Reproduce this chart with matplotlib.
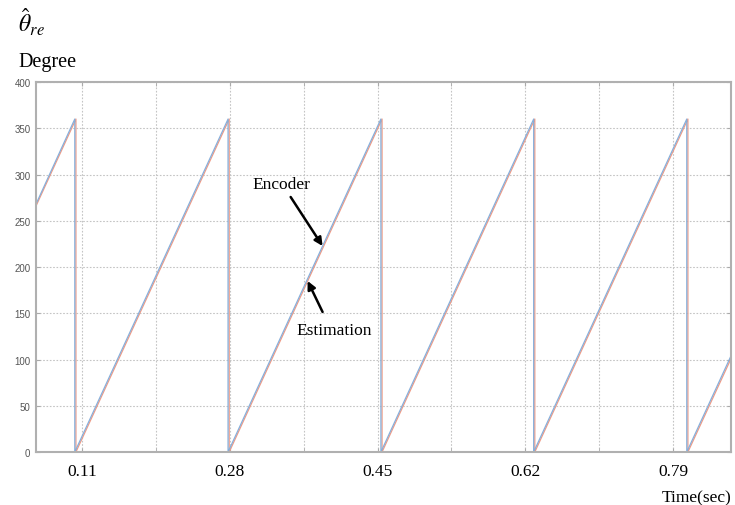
import matplotlib.pyplot as plt
from matplotlib.ticker import FixedLocator

plt.rcParams['mathtext.fontset'] = 'stix'

# encoder angle (red) and estimated angle (blue), sawtooth vertices
enc_t = [0.0572, 0.1031, 0.1031, 0.2794, 0.2794, 0.4552, 0.4552,
         0.6309, 0.6309, 0.8070, 0.8070, 0.8566]
enc_deg = [266, 360, 0, 360, 0, 360, 0, 360, 0, 360, 0, 101]

est_t = [0.0572, 0.1018, 0.1018, 0.2781, 0.2781, 0.4539, 0.4539,
         0.6296, 0.6296, 0.8057, 0.8057, 0.8566]
est_deg = [268, 360, 0, 360, 0, 360, 0, 360, 0, 360, 0, 104]

label_ticks = [0.11, 0.28, 0.45, 0.62, 0.79]
label_text = ['0.11', '0.28', '0.45', '0.62', '0.79']
mid_ticks = [0.195, 0.365, 0.535, 0.705]
y_ticks = [0, 50, 100, 150, 200, 250, 300, 350, 400]

fig = plt.figure(figsize=(7.35, 5.06), dpi=100)
ax = fig.add_axes([0.049, 0.1047, 0.9456, 0.7312])

ax.plot(enc_t, enc_deg, color='#ef9a85', lw=0.9)
ax.plot(est_t, est_deg, color='#86afdb', lw=0.9)

ax.set_xlim(0.0572, 0.8566)
ax.set_ylim(0, 400)

ax.set_xticks(label_ticks)
ax.set_xticklabels(label_text, family='Liberation Serif', fontsize=12.5)
ax.xaxis.set_minor_locator(FixedLocator(mid_ticks))
ax.set_yticks(y_ticks)
ax.set_yticklabels([str(v) for v in y_ticks], family='Liberation Sans',
                   fontsize=7, color='#555555')

ax.tick_params(axis='both', which='both', direction='in', top=True, right=True,
               color='#aaaaaa', length=3)
ax.tick_params(axis='x', which='major', pad=8)
ax.tick_params(axis='y', pad=4)

ax.grid(True, which='both', color='#c4c4c4', linestyle=(0, (1.5, 1.5)), lw=0.8)
for s in ax.spines.values():
    s.set_color('#b0b0b0')
    s.set_linewidth(1.5)

ax.text(0.3397, 289.7, 'Encoder', family='Liberation Serif', fontsize=12.5,
        ha='center', va='center')
ax.annotate('', xy=(0.3868, 222.7), xytext=(0.3501, 275.7),
            arrowprops=dict(arrowstyle='-|>', color='black', lw=1.8,
                            mutation_scale=12, shrinkA=0, shrinkB=0))
ax.text(0.4006, 131.9, 'Estimation', family='Liberation Serif', fontsize=12.5,
        ha='center', va='center')
ax.annotate('', xy=(0.3696, 184.9), xytext=(0.3868, 151.4),
            arrowprops=dict(arrowstyle='-|>', color='black', lw=1.8,
                            mutation_scale=12, shrinkA=0, shrinkB=0))

fig.text(18 / 735, 1 - 33 / 506, r'$\hat{\theta}_{re}$', fontsize=17,
         ha='left', va='baseline')
fig.text(18 / 735, 1 - 67 / 506, 'Degree', family='Liberation Serif',
         fontsize=14.5, ha='left', va='baseline')
fig.text(731 / 735, 1 - 502 / 506, 'Time(sec)', family='Liberation Serif',
         fontsize=12.5, ha='right', va='baseline')

fig.savefig('out.png', dpi=100)
